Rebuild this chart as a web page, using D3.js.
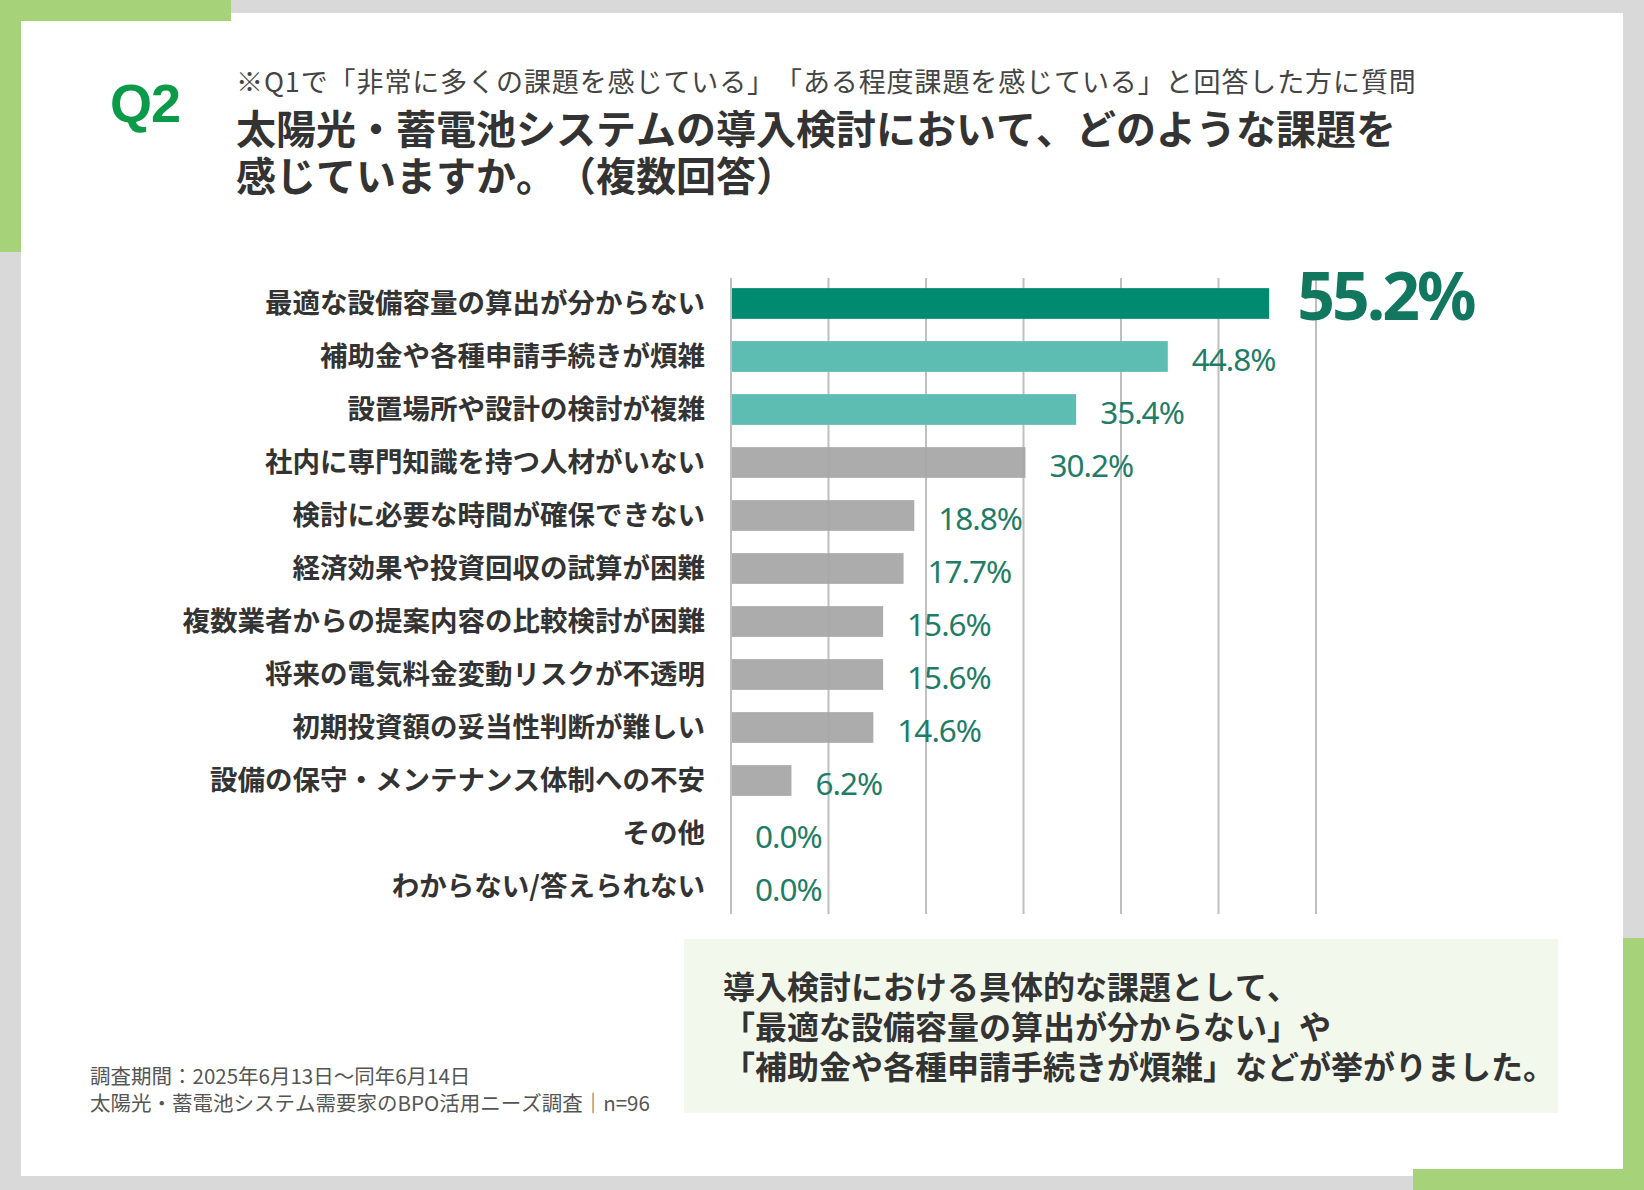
<!DOCTYPE html>
<html lang="ja">
<head>
<meta charset="utf-8">
<script src="https://cdn.jsdelivr.net/npm/d3@7"></script>
<style>
  html, body { margin: 0; padding: 0; background: #d9d9d9; }
  svg { display: block; }
  svg text { text-spacing-trim: space-all; font-kerning: none; }
</style>
</head>
<body>
<script>
// ---- data ----
const categories = [
  "最適な設備容量の算出が分からない",
  "補助金や各種申請手続きが煩雑",
  "設置場所や設計の検討が複雑",
  "社内に専門知識を持つ人材がいない",
  "検討に必要な時間が確保できない",
  "経済効果や投資回収の試算が困難",
  "複数業者からの提案内容の比較検討が困難",
  "将来の電気料金変動リスクが不透明",
  "初期投資額の妥当性判断が難しい",
  "設備の保守・メンテナンス体制への不安",
  "その他",
  "わからない/答えられない"
];
const values = [55.2, 44.8, 35.4, 30.2, 18.8, 17.7, 15.6, 15.6, 14.6, 6.2, 0.0, 0.0];
const gridTicks = [0, 10, 20, 30, 40, 50, 60];
const subtitle = "※Q1で「非常に多くの課題を感じている」「ある程度課題を感じている」と回答した方に質問";
const titleLines = ["太陽光・蓄電池システムの導入検討において、どのような課題を", "感じていますか。（複数回答）"];
const summaryLines = ["導入検討における具体的な課題として、", "「最適な設備容量の算出が分からない」や", "「補助金や各種申請手続きが煩雑」などが挙がりました。"];
const footerLines = ["調査期間：2025年6月13日～同年6月14日", "太陽光・蓄電池システム需要家のBPO活用ニーズ調査｜n=96"];

// ---- setup ----
const W = 1644, H = 1190;
const JP = "'Noto Sans CJK JP', 'Noto Sans CJK SC', sans-serif";
const svg = d3.select("body").append("svg").attr("width", W).attr("height", H);

// background frame
svg.append("rect").attr("x", 0).attr("y", 0).attr("width", W).attr("height", H).attr("fill", "#d9d9d9");
svg.append("rect").attr("x", 21).attr("y", 13).attr("width", 1602).attr("height", 1163).attr("fill", "#ffffff");
const green = "#a6d379";
svg.append("rect").attr("x", 0).attr("y", 0).attr("width", 231).attr("height", 21).attr("fill", green);
svg.append("rect").attr("x", 0).attr("y", 0).attr("width", 21).attr("height", 252).attr("fill", green);
svg.append("rect").attr("x", 1623).attr("y", 938).attr("width", 21).attr("height", 252).attr("fill", green);
svg.append("rect").attr("x", 1413).attr("y", 1169).attr("width", 231).attr("height", 21).attr("fill", green);

// header
svg.append("text").attr("x", 110).attr("y", 122)
  .attr("font-family", "'Liberation Sans', Arial, sans-serif").attr("font-weight", 700)
  .attr("font-size", 54).attr("fill", "#0a9a48").attr("letter-spacing", -1).text("Q2");
svg.append("text").attr("x", 236).attr("y", 92)
  .attr("font-family", JP).attr("font-size", 27).attr("letter-spacing", 0.9)
  .attr("fill", "#444").text(subtitle);
svg.selectAll("text.title").data(titleLines).join("text").attr("class", "title")
  .attr("x", 236).attr("y", (d, i) => 144 + i * 47)
  .attr("font-family", JP).attr("font-weight", 700).attr("font-size", 40).attr("fill", "#333")
  .text(d => d);

// ---- chart ----
const x = d3.scaleLinear().domain([0, 60]).range([731, 1316]);
const y = d3.scaleBand().domain(categories).range([277, 913]).paddingInner(0.42).paddingOuter(0.21);

const g = svg.append("g");
g.selectAll("line.grid").data(gridTicks).join("line").attr("class", "grid")
  .attr("x1", d => x(d)).attr("x2", d => x(d))
  .attr("y1", 278).attr("y2", 914)
  .attr("stroke", "#bfbfbf").attr("stroke-width", 2);

const colorOf = i => i === 0 ? "#008a70" : (i <= 2 ? "#5dbdb2" : "#a6a6a6");
g.selectAll("rect.bar").data(values).join("rect").attr("class", "bar")
  .attr("x", x(0) + 1).attr("y", (d, i) => y(categories[i]))
  .attr("width", d => Math.max(0, x(d) - x(0) - 1)).attr("height", y.bandwidth())
  .attr("fill", (d, i) => colorOf(i))
  .attr("fill-opacity", (d, i) => i > 2 ? 0.93 : 1);

// category labels
g.selectAll("text.cat").data(categories).join("text").attr("class", "cat")
  .attr("x", 705).attr("y", d => y(d) + y.bandwidth() / 2).attr("dy", "0.36em")
  .attr("text-anchor", "end").attr("font-family", JP).attr("font-weight", 700)
  .attr("font-size", 27.5).attr("fill", "#333").text(d => d);

// value labels
g.selectAll("text.val").data(values).join("text").attr("class", "val")
  .attr("x", (d, i) => x(d) + (i === 0 ? 28 : 24))
  .attr("y", (d, i) => y(categories[i]) + y.bandwidth() / 2 + (i === 0 ? 16 : 14))
  .attr("font-family", "'Noto Sans', 'Open Sans', sans-serif")
  .attr("font-weight", (d, i) => i === 0 ? 700 : 400)
  .attr("font-size", (d, i) => i === 0 ? 66 : 31.5)
  .attr("letter-spacing", (d, i) => i === 0 ? -3 : -1)
  .attr("fill", (d, i) => i === 0 ? "#12775f" : "#1f7d67")
  .text(d => d.toFixed(1) + "%");

// summary box
svg.append("rect").attr("x", 684).attr("y", 939).attr("width", 874).attr("height", 174).attr("fill", "#f2f8ec");
svg.selectAll("text.sum").data(summaryLines).join("text").attr("class", "sum")
  .attr("x", 723).attr("y", (d, i) => 999 + i * 40)
  .attr("font-family", JP).attr("font-weight", 700).attr("font-size", 32).attr("fill", "#333")
  .text(d => d);

// footer
svg.selectAll("text.foot").data(footerLines).join("text").attr("class", "foot")
  .attr("x", 90).attr("y", (d, i) => 1084 + i * 27)
  .attr("font-family", JP).attr("font-size", 20.5).attr("fill", "#555")
  .text(d => d);
</script>
</body>
</html>
